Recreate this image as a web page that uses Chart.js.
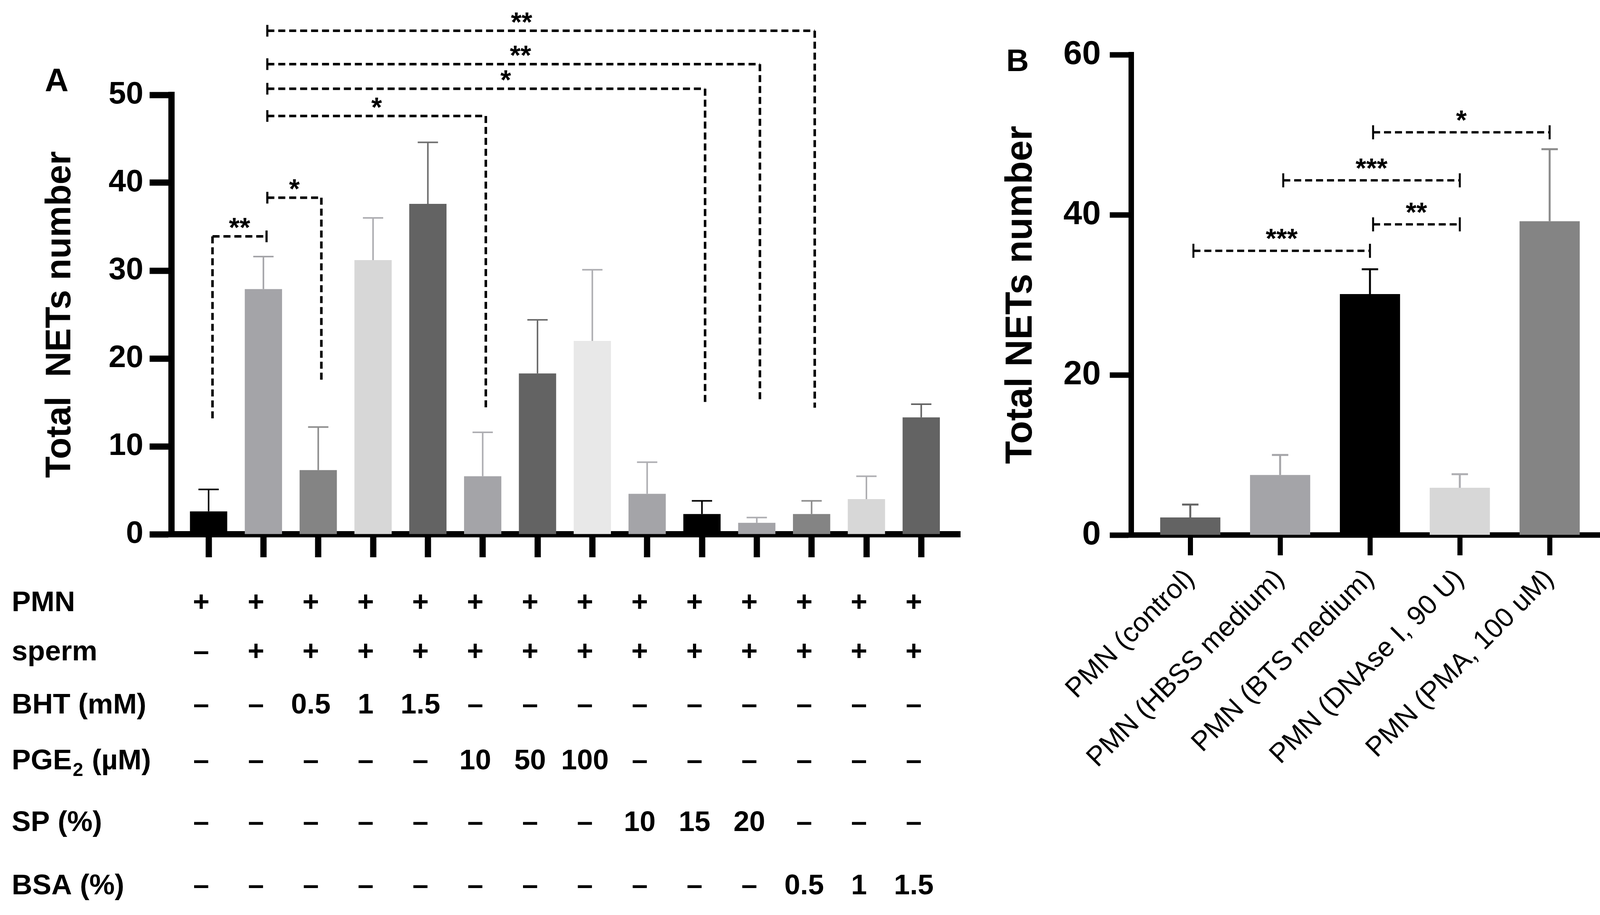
<!DOCTYPE html>
<html>
<head>
<meta charset="utf-8">
<script src="https://cdn.jsdelivr.net/npm/chart.js@4.4.0/dist/chart.umd.min.js"></script>
<style>
  html, body { margin: 0; padding: 0; background: #fff; }
  body { width: 4143px; height: 2343px; position: relative; overflow: hidden; }
  .panel { position: absolute; top: 0; }
  #wrapA { left: 0; }
  #wrapB { left: 2500px; }
</style>
</head>
<body>
<div class="panel" id="wrapA"><canvas id="chartA" width="2500" height="2343"></canvas></div>
<div class="panel" id="wrapB"><canvas id="chartB" width="1643" height="2343"></canvas></div>
<script>
// ---- panel A data (mean and SD of total NETs, 14 conditions)
const meanA = [2.6, 27.9, 7.3, 31.2, 37.6, 6.6, 18.3, 22.0, 4.6, 2.3, 1.3, 2.3, 4.0, 13.3];
const sdA   = [2.5, 3.7, 4.9, 4.8, 7.0, 5.0, 6.1, 8.1, 3.6, 1.5, 0.6, 1.5, 2.6, 1.5];
const ticksA = [0, 10, 20, 30, 40, 50];

// condition table under panel A
const tableLabels = ['PMN', 'sperm', 'BHT (mM)', 'PGE_2_ (\u00b5M)', 'SP (%)', 'BSA (%)'];
const pmnRow   = ['+', '+', '+', '+', '+', '+', '+', '+', '+', '+', '+', '+', '+', '+'];
const spermRow = ['\u2013', '+', '+', '+', '+', '+', '+', '+', '+', '+', '+', '+', '+', '+'];
const bhtRow   = ['\u2013', '\u2013', '0.5', '1', '1.5', '\u2013', '\u2013', '\u2013', '\u2013', '\u2013', '\u2013', '\u2013', '\u2013', '\u2013'];
const pgeRow   = ['\u2013', '\u2013', '\u2013', '\u2013', '\u2013', '10', '50', '100', '\u2013', '\u2013', '\u2013', '\u2013', '\u2013', '\u2013'];
const spRow    = ['\u2013', '\u2013', '\u2013', '\u2013', '\u2013', '\u2013', '\u2013', '\u2013', '10', '15', '20', '\u2013', '\u2013', '\u2013'];
const bsaRow   = ['\u2013', '\u2013', '\u2013', '\u2013', '\u2013', '\u2013', '\u2013', '\u2013', '\u2013', '\u2013', '\u2013', '0.5', '1', '1.5'];

// significance brackets A: [from, to, level, drop to, dropping end, stars, star position]
const sigA = [
  [0, 1, 33.9, 13.1, 'L', '**'],
  [1, 2, 38.3, 17.2, 'R', '*'],
  [1, 5, 47.6, 14.4, 'R', '*'],
  [1, 9, 50.7, 15.0, 'R', '*', 5.42],
  [1, 10, 53.5, 15.0, 'R', '**', 5.69],
  [1, 11, 57.3, 14.4, 'R', '**', 5.71]
];

// ---- panel B data
const labelsB = ['PMN (control)', 'PMN (HBSS medium)', 'PMN (BTS medium)', 'PMN (DNAse I, 90 U)', 'PMN (PMA, 100 uM)'];
const meanB = [2.2, 7.5, 30.1, 5.9, 39.2];
const sdB   = [1.6, 2.5, 3.1, 1.7, 9.0];
const ticksB = [0, 20, 40, 60];
const sigB = [
  [0, 2, 35.5, null, '', '***'],
  [2, 3, 38.8, null, '', '**'],
  [1, 3, 44.3, null, '', '***'],
  [2, 4, 50.3, null, '', '*']
];

// styles
const fillA = ['#000000', '#a4a4a8', '#848484', '#d7d7d7', '#636363', '#a4a4a8', '#636363',
               '#e8e8e8', '#a4a4a8', '#000000', '#a4a4a8', '#848484', '#d7d7d7', '#636363'];
const errA  = ['#000000', '#a4a4a8', '#8c8c8c', '#aeaeb2', '#6e6e6e', '#aeaeb2', '#6e6e6e',
               '#aeaeb2', '#aeaeb2', '#000000', '#aeaeb2', '#8c8c8c', '#aeaeb2', '#636363'];
const fillB = ['#636363', '#a4a4a8', '#000000', '#d7d7d7', '#848484'];
const errB  = ['#636363', '#a4a4a8', '#000000', '#aeaeb2', '#8a8a8a'];

const FONT = "'Liberation Sans', Arial, Helvetica, sans-serif";
Chart.defaults.font.family = FONT;
Chart.defaults.color = '#000';

function errorBars(sd, colors, width, cap) {
  return {
    id: 'errorBars',
    afterDatasetsDraw(chart) {
      const ctx = chart.ctx, xs = chart.scales.x, ys = chart.scales.y;
      ctx.save();
      ctx.lineWidth = width;
      chart.data.datasets[0].data.forEach((p, i) => {
        const px = xs.getPixelForValue(p.x);
        const top = ys.getPixelForValue(p.y);
        const end = ys.getPixelForValue(p.y + sd[i]);
        ctx.strokeStyle = colors[i];
        ctx.beginPath();
        ctx.moveTo(px, top);
        ctx.lineTo(px, end);
        ctx.moveTo(px - cap / 2, end);
        ctx.lineTo(px + cap / 2, end);
        ctx.stroke();
      });
      ctx.restore();
    }
  };
}

function brackets(list, st) {
  return {
    id: 'brackets',
    afterDraw(chart) {
      const ctx = chart.ctx, xs = chart.scales.x, ys = chart.scales.y;
      ctx.save();
      ctx.strokeStyle = '#000';
      ctx.fillStyle = '#000';
      ctx.lineWidth = st.width;
      list.forEach(([a, b, level, drop, side, stars, at]) => {
        const x1 = xs.getPixelForValue(a) + st.nudgeL;
        const x2 = xs.getPixelForValue(b) + st.nudgeR;
        const yl = ys.getPixelForValue(level);
        ctx.setLineDash(st.dash);
        ctx.beginPath();
        ctx.moveTo(x1, yl);
        ctx.lineTo(x2, yl);
        if (side === 'L') { ctx.moveTo(x1, yl); ctx.lineTo(x1, ys.getPixelForValue(drop)); }
        if (side === 'R') { ctx.moveTo(x2, yl); ctx.lineTo(x2, ys.getPixelForValue(drop)); }
        ctx.stroke();
        ctx.setLineDash([]);
        ctx.lineWidth = st.width - 1;
        ctx.beginPath();
        if (side !== 'L') { ctx.moveTo(x1, yl - st.cap); ctx.lineTo(x1, yl + st.cap); }
        if (side !== 'R') { ctx.moveTo(x2, yl - st.cap); ctx.lineTo(x2, yl + st.cap); }
        ctx.stroke();
        ctx.lineWidth = st.width;
        ctx.font = 'bold ' + st.text + 'px ' + FONT;
        ctx.textAlign = 'center';
        ctx.textBaseline = 'alphabetic';
        const lx = at === undefined ? (x1 + x2) / 2 : xs.getPixelForValue(at);
        ctx.fillText(stars, lx, yl + st.textDy);
      });
      ctx.restore();
    }
  };
}

function panelLetter(letter, x, y, size) {
  return {
    id: 'panelLetter',
    afterDraw(chart) {
      const ctx = chart.ctx;
      ctx.save();
      ctx.font = 'bold ' + size + 'px ' + FONT;
      ctx.fillStyle = '#000';
      ctx.textAlign = 'center';
      ctx.textBaseline = 'middle';
      ctx.fillText(letter, x, y);
      ctx.restore();
    }
  };
}

const conditionTable = {
  id: 'conditionTable',
  afterDraw(chart) {
    const ctx = chart.ctx, xs = chart.scales.x;
    const rows = [pmnRow, spermRow, bhtRow, pgeRow, spRow, bsaRow];
    const rowY = [1545, 1671, 1807, 1950, 2108, 2270];
    ctx.save();
    ctx.fillStyle = '#000';
    ctx.textBaseline = 'middle';
    rows.forEach((row, r) => {
      const y = rowY[r];
      // row label, with "_x_" parts as subscript
      let x = 30;
      ctx.textAlign = 'left';
      tableLabels[r].split('_').forEach((part, k) => {
        if (k % 2) {
          ctx.font = 'bold 48px ' + FONT;
          ctx.fillText(part, x + 2, y + 24);
          x += ctx.measureText(part).width + 4;
        } else {
          ctx.font = 'bold 73px ' + FONT;
          ctx.fillText(part, x, y);
          x += ctx.measureText(part).width;
        }
      });
      ctx.font = 'bold 73px ' + FONT;
      ctx.textAlign = 'center';
      row.forEach((v, i) => ctx.fillText(v, xs.getPixelForValue(i) - 19, y));
    });
    ctx.restore();
  }
};

new Chart(document.getElementById('chartA'), {
  type: 'bar',
  data: {
    datasets: [{
      data: meanA.map((v, i) => ({ x: i, y: v })),
      backgroundColor: fillA,
      borderWidth: 0,
      barPercentage: 0.68,
      categoryPercentage: 1
    }]
  },
  options: {
    responsive: false,
    animation: false,
    devicePixelRatio: 1,
    layout: { padding: { top: 243, right: 42, bottom: 875, left: 0 } },
    plugins: { legend: { display: false }, tooltip: { enabled: false } },
    scales: {
      x: {
        type: 'linear', min: -0.677, max: 13.71, z: 1, offset: false,
        afterBuildTicks: s => { s.ticks = meanA.map((_, i) => ({ value: i })); },
        ticks: { callback: () => '', autoSkip: false, maxRotation: 0 },
        grid: { offset: false, drawOnChartArea: false, drawTicks: true, tickLength: 59, tickWidth: 16, tickColor: '#000' },
        border: { color: '#000', width: 16 },
        afterFit: s => { s.height = 100; }
      },
      y: {
        min: 0, max: 50, z: 1,
        afterBuildTicks: s => { s.ticks = ticksA.map(v => ({ value: v })); },
        ticks: { font: { size: 80, weight: 'bold' }, color: '#000', padding: 16 },
        grid: { drawOnChartArea: false, drawTicks: true, tickLength: 56, tickWidth: 16, tickColor: '#000' },
        border: { color: '#000', width: 16 },
        title: { display: true, text: 'Total  NETs number', color: '#000',
                 font: { size: 90, weight: 'bold' }, padding: { top: 101, bottom: 0 } },
        afterFit: s => { s.width = 439; }
      }
    }
  },
  plugins: [
    errorBars(sdA, errA, 4, 52),
    brackets(sigA, { width: 6.5, dash: [18, 10], cap: 15, text: 70, textDy: 2, nudgeL: 10, nudgeR: 8 }),
    conditionTable,
    panelLetter('A', 145, 211, 84)
  ]
});

new Chart(document.getElementById('chartB'), {
  type: 'bar',
  data: {
    datasets: [{
      data: meanB.map((v, i) => ({ x: i, y: v })),
      backgroundColor: fillB,
      borderWidth: 0,
      barPercentage: 0.67,
      categoryPercentage: 1
    }]
  },
  options: {
    responsive: false,
    animation: false,
    devicePixelRatio: 1,
    layout: { padding: { top: 140, right: 34, bottom: 373, left: 0 } },
    plugins: { legend: { display: false }, tooltip: { enabled: false } },
    scales: {
      x: {
        type: 'linear', min: -0.657, max: 4.617, z: 1, offset: false,
        afterBuildTicks: s => { s.ticks = labelsB.map((_, i) => ({ value: i })); },
        ticks: { callback: v => labelsB[v], autoSkip: false, minRotation: 45, maxRotation: 45,
                 font: { size: 70 }, color: '#000', padding: 20 },
        grid: { offset: false, drawOnChartArea: false, drawTicks: true, tickLength: 52, tickWidth: 13, tickColor: '#000' },
        border: { color: '#000', width: 14 },
        afterFit: s => { s.height = 600; }
      },
      y: {
        min: 0, max: 60, z: 1,
        afterBuildTicks: s => { s.ticks = ticksB.map(v => ({ value: v })); },
        ticks: { font: { size: 86, weight: 'bold' }, color: '#000', padding: 23 },
        grid: { drawOnChartArea: false, drawTicks: true, tickLength: 55, tickWidth: 14, tickColor: '#000' },
        border: { color: '#000', width: 14 },
        title: { display: true, text: 'Total NETs number', color: '#000',
                 font: { size: 96, weight: 'bold' }, padding: { top: 57, bottom: 0 } },
        afterFit: s => { s.width = 396; }
      }
    }
  },
  plugins: [
    errorBars(sdB, errB, 5, 42),
    brackets(sigB, { width: 6, dash: [18, 10], cap: 18, text: 70, textDy: -7, nudgeL: 8, nudgeR: 0 }),
    panelLetter('B', 105, 160, 80)
  ]
});
</script>
</body>
</html>
